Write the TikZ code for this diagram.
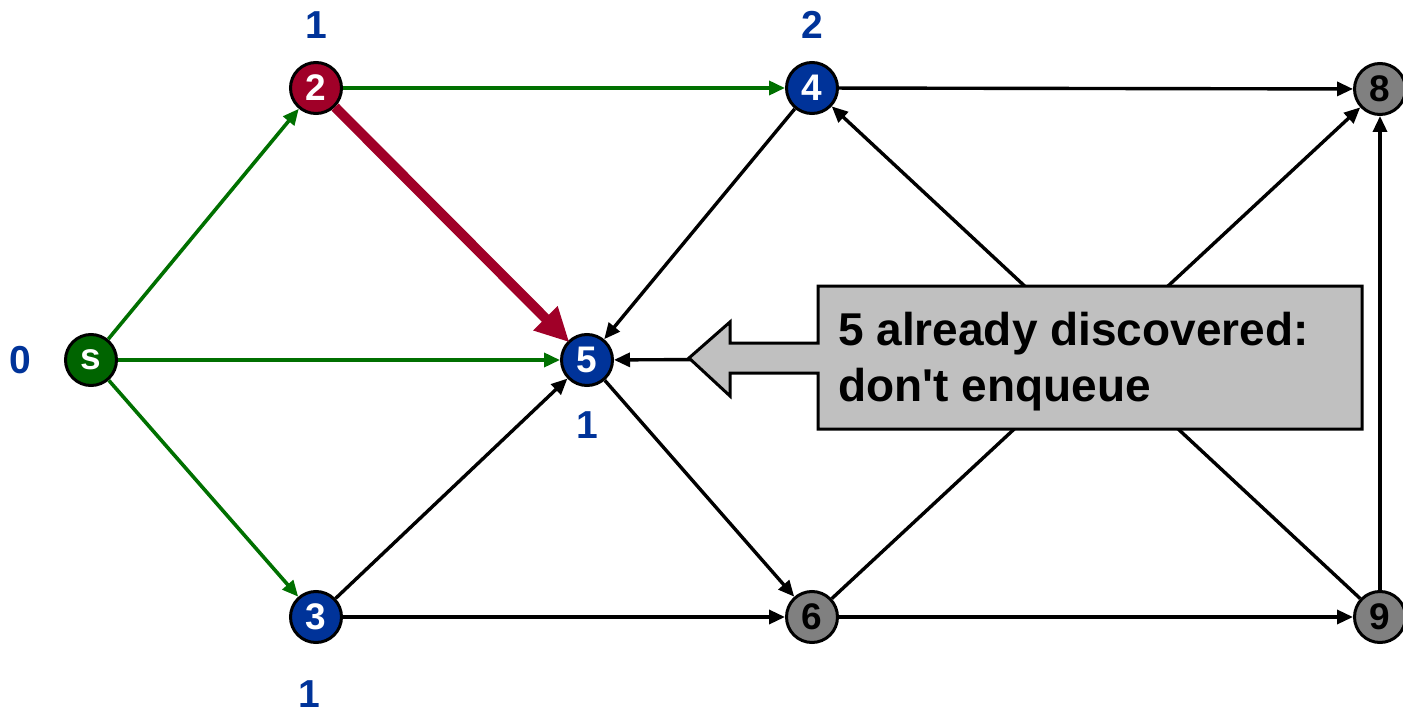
\documentclass[tikz,border=0pt]{standalone}
\usepackage{fontspec}
\setmainfont{Liberation Sans}
\usetikzlibrary{arrows.meta}
\definecolor{vgreen}{RGB}{0,100,0}
\definecolor{egreen}{RGB}{0,112,0}
\definecolor{vred}{RGB}{160,0,40}
\definecolor{vblue}{RGB}{0,51,153}
\definecolor{vgray}{RGB}{128,128,128}
\definecolor{boxgray}{RGB}{192,192,192}
\begin{document}
\begin{tikzpicture}[x=1pt,y=-1pt,
  vert/.style={circle,draw=black,line width=3pt,minimum size=51pt,inner sep=0pt,
    font=\fontsize{37}{37}\selectfont\bfseries},
  bluev/.style={vert,fill=vblue,text=white},
  redv/.style={vert,fill=vred,text=white},
  greenv/.style={vert,fill=vgreen,text=white},
  grayv/.style={vert,fill=vgray,text=black},
  dist/.style={text=vblue,font=\fontsize{39}{39}\selectfont\bfseries,inner sep=0pt},
  tip/.style={-{Triangle[length=16pt,width=14pt]}},
  blk/.style={tip,line width=3.4pt,black},
  grn/.style={tip,line width=3.6pt,egreen},
  redthick/.style={-{Triangle[length=34pt,width=32pt]},line width=10pt,vred,shorten >=-2pt},
  callout/.style={fill=boxgray,draw=black,line width=3pt,line join=miter}
]
\useasboundingbox (0,0) rectangle (1403,714);

\node[greenv] (s) at (91,360) {s};
\node[redv] (n2) at (316,88) {2};
\node[bluev] (n4) at (812,88) {4};
\node[grayv] (n8) at (1380,89) {8};
\node[bluev] (n5) at (587,360) {5};
\node[bluev] (n3) at (316,617) {3};
\node[grayv] (n6) at (812,617) {6};
\node[grayv] (n9) at (1380,617) {9};
\coordinate (c7) at (1096,358);

\node[dist] (d2) at (316,25) {1};
\node[dist] (d4) at (812,25) {2};
\node[dist] (ds) at (20,360) {0};
\node[dist] (d5) at (587,425) {1};
\node[dist] (d3) at (309,694) {1};

% edges
\draw[grn] (s) -- (n2);
\draw[grn] (s) -- (n5);
\draw[grn] (s) -- (n3);
\draw[grn] (n2) -- (n4);
\draw[blk] (n4) -- (n8);
\draw[blk] (n4) -- (n5);
\draw[blk] (n3) -- (n5);
\draw[blk] (n3) -- (n6);
\draw[blk] (n5) -- (n6);
\draw[blk] (n6) -- (n8);
\draw[blk] (n6) -- (n9);
\draw[blk] (n9) -- (n4);
\draw[blk] (n9) -- (n8);
\draw[blk] (c7) -- (n5);
\draw[redthick] (n2) -- (n5);

% callout
\draw[callout] (818,286) -- (1362,286) -- (1362,429) -- (818,429) -- (818,373)
  -- (730,373) -- (730,396) -- (689,358) -- (730,322) -- (730,343) -- (818,343) -- cycle;
\node[anchor=west,align=left,inner sep=0pt,font=\fontsize{46}{56}\selectfont\bfseries]
  (msg) at (838,362) {5 already discovered:\\don\textquotesingle t enqueue};
\end{tikzpicture}
\end{document}
